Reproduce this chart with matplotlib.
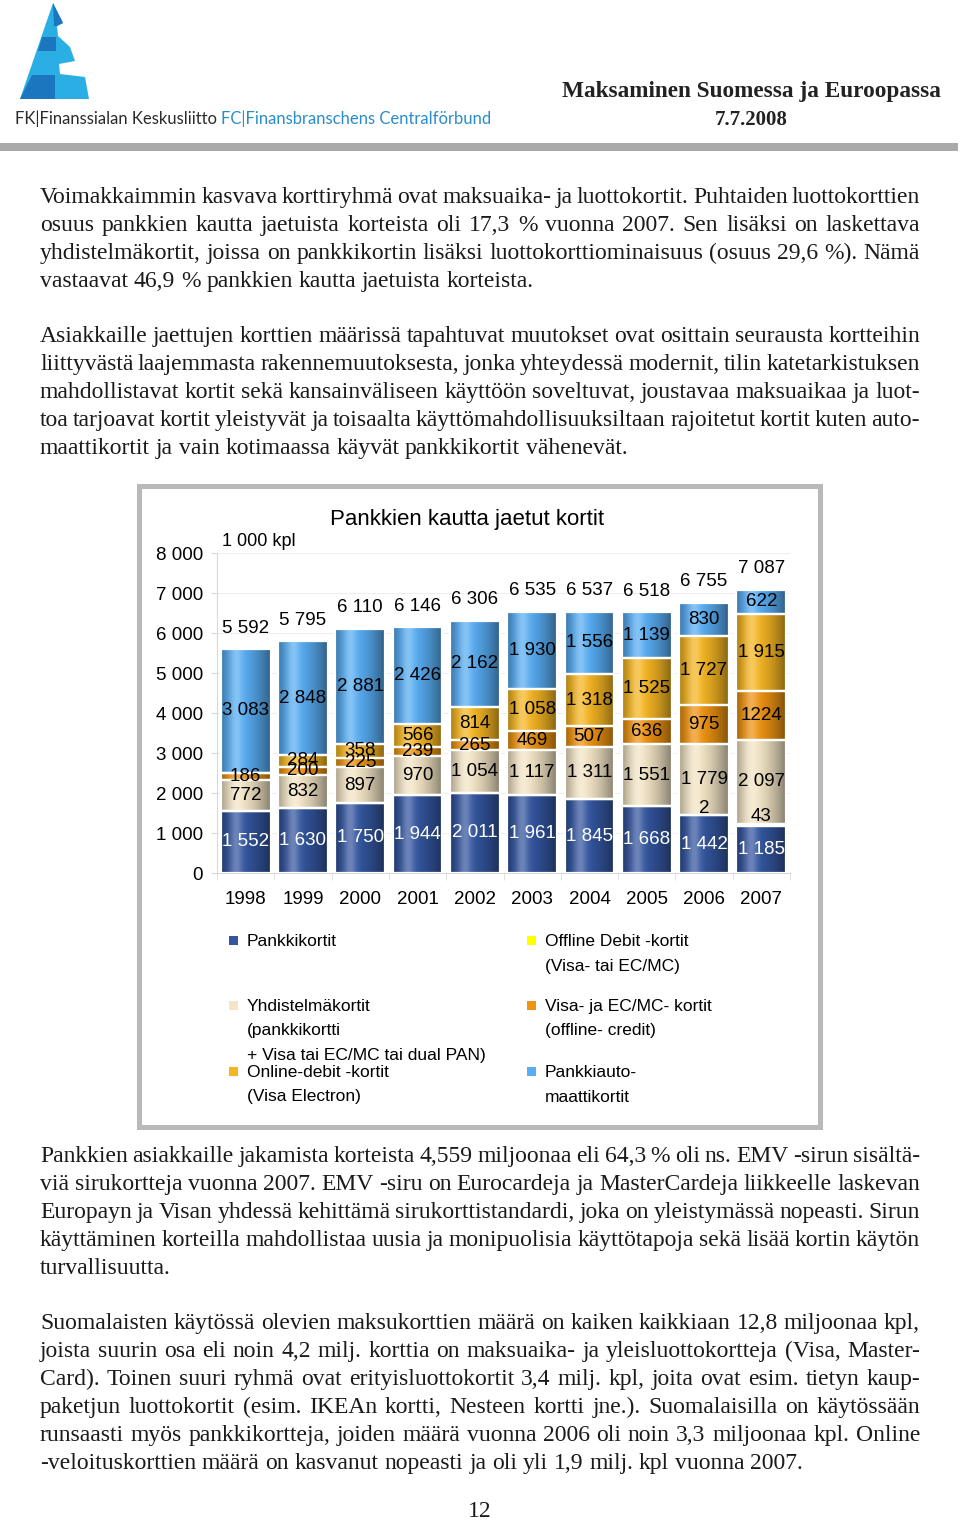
import matplotlib
matplotlib.use('Agg')
import matplotlib.pyplot as plt
import numpy as np
from matplotlib.patches import Rectangle, Polygon

# chart data (1 000 kpl)
years = ['1998', '1999', '2000', '2001', '2002', '2003', '2004', '2005', '2006', '2007']
pankkikortit = [1552, 1630, 1750, 1944, 2011, 1961, 1845, 1668, 1442, 1185]
offline_debit = [0, 0, 0, 0, 0, 0, 0, 0, 2, 43]
yhdistelma = [772, 832, 897, 970, 1054, 1117, 1311, 1551, 1779, 2097]
visa_ecmc = [186, 200, 225, 239, 265, 469, 507, 636, 975, 1224]
online_debit = [0, 284, 358, 566, 814, 1058, 1318, 1525, 1727, 1915]
automaatti = [3083, 2848, 2881, 2426, 2162, 1930, 1556, 1139, 830, 622]
totals = [5592, 5795, 6110, 6146, 6306, 6535, 6537, 6518, 6755, 7087]

series_names = ['Pankkikortit', 'Offline Debit -kortit\n(Visa- tai EC/MC)',
                'Yhdistelmäkortit\n(pankkikortti\n+ Visa tai EC/MC tai dual PAN)',
                'Visa- ja EC/MC- kortit\n(offline- credit)',
                'Online-debit -kortit\n(Visa Electron)', 'Pankkiauto-\nmaattikortit']
colors = ['#34569f', '#ffff00', '#f3e5c6', '#ee9312', '#f5b623', '#58adf3']

para1 = ["Voimakkaimmin kasvava korttiryhmä ovat maksuaika- ja luottokortit. Puhtaiden luottokorttien",
         "osuus pankkien kautta jaetuista korteista oli 17,3 % vuonna 2007. Sen lisäksi on laskettava",
         "yhdistelmäkortit, joissa on pankkikortin lisäksi luottokorttiominaisuus (osuus 29,6 %). Nämä",
         "vastaavat 46,9 % pankkien kautta jaetuista korteista."]
para2 = ["Asiakkaille jaettujen korttien määrissä tapahtuvat muutokset ovat osittain seurausta kortteihin",
         "liittyvästä laajemmasta rakennemuutoksesta, jonka yhteydessä modernit, tilin katetarkistuksen",
         "mahdollistavat kortit sekä kansainväliseen käyttöön soveltuvat, joustavaa maksuaikaa ja luot-",
         "toa tarjoavat kortit yleistyvät ja toisaalta käyttömahdollisuuksiltaan rajoitetut kortit kuten auto-",
         "maattikortit ja vain kotimaassa käyvät pankkikortit vähenevät."]
para3 = ["Pankkien asiakkaille jakamista korteista 4,559 miljoonaa eli 64,3 % oli ns. EMV -sirun sisältä-",
         "viä sirukortteja vuonna 2007.  EMV -siru on Eurocardeja ja MasterCardeja liikkeelle laskevan",
         "Europayn ja Visan yhdessä kehittämä sirukorttistandardi, joka on yleistymässä nopeasti. Sirun",
         "käyttäminen korteilla mahdollistaa uusia ja monipuolisia käyttötapoja sekä lisää kortin käytön",
         "turvallisuutta."]
para4 = ["Suomalaisten käytössä olevien maksukorttien määrä on kaiken kaikkiaan 12,8 miljoonaa kpl,",
         "joista suurin osa eli noin 4,2 milj. korttia on maksuaika- ja yleisluottokortteja (Visa, Master-",
         "Card). Toinen suuri ryhmä ovat erityisluottokortit 3,4 milj. kpl, joita ovat esim. tietyn kaup-",
         "paketjun luottokortit (esim. IKEAn kortti, Nesteen kortti jne.). Suomalaisilla on käytössään",
         "runsaasti myös pankkikortteja, joiden määrä vuonna 2006 oli noin 3,3 miljoonaa kpl. Online",
         "-veloituskorttien määrä on kasvanut nopeasti ja oli yli 1,9 milj. kpl vuonna 2007."]

W, H = 960, 1522
fig = plt.figure(figsize=(W / 100, H / 100), dpi=100)
renderer = fig.canvas.get_renderer()

# page layer in pixel coordinates
bg = fig.add_axes([0, 0, 1, 1])
bg.set_xlim(0, W)
bg.set_ylim(H, 0)
bg.axis('off')

serif = 'Liberation Serif'
sans = 'Liberation Sans'


def width_of(t):
    return t.get_window_extent(renderer).width


def measure(s, size, **kw):
    t = bg.text(0, 0, s, fontsize=size, **kw)
    w = width_of(t)
    t.remove()
    return w


def fit_text(x, y, s, target_w, ha='left', **kw):
    size = 12 * target_w / measure(s, 12, **kw)
    return bg.text(x, y, s, fontsize=size, ha=ha, va='baseline', **kw)


# logo
bg.add_patch(Polygon([(53, 3), (63, 23), (57, 26), (58, 36), (70, 47), (75, 61), (59, 64),
                      (60, 74), (85, 77), (89, 99), (20, 99)], closed=True, color='#2aaee4', lw=0))
for pts in [[(53, 3), (63, 23), (57, 26), (54, 26)],
            [(41.5, 37), (56, 37), (56, 51), (37.5, 51)],
            [(31.5, 75), (55, 75), (55, 99), (20, 99)]]:
    bg.add_patch(Polygon(pts, closed=True, color='#1c76bf', lw=0))

fk1 = 'FK|Finanssialan Keskusliitto '
fk2 = 'FC|Finansbranschens Centralförbund'
fsz = 12 * 475 / measure(fk1 + fk2, 12, family='Lato')
w1 = measure(fk1, fsz, family='Lato')
bg.text(15, 124, fk1, fontsize=fsz, family='Lato', color='#2b2b2b', va='baseline')
bg.text(15 + w1, 124, fk2, fontsize=fsz, family='Lato', color='#2a8dcb', va='baseline')

fit_text(751, 97, 'Maksaminen Suomessa ja Euroopassa', 377, ha='center',
         family=serif, fontweight='bold', color='#222222')
bg.text(751, 125, '7.7.2008', fontsize=15, family=serif, fontweight='bold',
        ha='center', va='baseline', color='#222222')
bg.add_patch(Rectangle((0, 143), 958, 8, color='#a9a9a9', lw=0))

# body text size: as large as possible while every justified line still fits
paras = [para1, para2, para3, para4]
space_w12 = measure('x x', 12, family=serif) - measure('xx', 12, family=serif)
widest = 0
for p in paras:
    for line in p[:-1]:
        words = line.split()
        nat = sum(measure(w, 12, family=serif) for w in words) + 0.6 * space_w12 * (len(words) - 1)
        widest = max(widest, nat)
body_size = min(17.0, 12 * 880 / widest)
space_w = space_w12 * body_size / 12


def paragraph(lines, y0, step=28, x0=40, x1=920):
    for i, line in enumerate(lines):
        words = line.split()
        texts = [bg.text(0, y0 + i * step, w, fontsize=body_size, family=serif,
                         va='baseline', color='#1a1a1a') for w in words]
        ws = [width_of(t) for t in texts]
        if i == len(lines) - 1 or len(words) < 2:
            gap = space_w
        else:
            gap = (x1 - x0 - sum(ws)) / (len(words) - 1)
        x = x0
        for t, w in zip(texts, ws):
            t.set_x(x)
            x += w + gap


paragraph(para1, 203)
paragraph(para2, 342)
paragraph(para3, 1162)
paragraph(para4, 1329)
bg.text(480, 1517, '12', fontsize=body_size, family=serif, ha='center', va='baseline', color='#1a1a1a')

# chart frame
bg.add_patch(Rectangle((138.5, 485.5), 681, 641, facecolor='white', edgecolor='#b9b9b9', lw=3.6))
bg.text(467, 519, 'Pankkien kautta jaetut kortit', fontsize=16, family=sans, ha='center', va='center')
bg.text(222, 541, '1 000 kpl', fontsize=13, family=sans, ha='left', va='center')

# legend
legend_pos = [(233, 940), (531, 940), (233, 1005), (531, 1005), (233, 1071), (531, 1071)]
for name, col, (lx, ly) in zip(series_names, colors, legend_pos):
    bg.add_patch(Rectangle((lx - 4.5, ly - 4.5), 9, 9, color=col, lw=0))
    for k, ln in enumerate(name.split('\n')):
        bg.text(lx + 14, ly + 6 + k * 24.5, ln, fontsize=12.5, family=sans, va='baseline')

# bar chart
ax = fig.add_axes([217 / W, (H - 873) / H, (790 - 217) / W, 320 / H])
ax.set_facecolor('none')
x = np.arange(len(years))
series = [pankkikortit, offline_debit, yhdistelma, visa_ecmc, online_debit, automaatti]
bottom = np.zeros(len(years))

# cylinder-like shading: dark edges, light streak left of centre
u = np.linspace(0, 1, 64)
dark = np.zeros((1, 64, 4))
dark[..., 3] = np.where(u > 0.35, 0.45 * ((u - 0.35) / 0.65) ** 1.6,
                        0.3 * ((0.35 - u) / 0.35) ** 1.6)
light = np.ones((1, 64, 4))
light[..., 3] = 0.28 * np.exp(-((u - 0.3) / 0.13) ** 2)

bw = 0.87
for si, (vals, col) in enumerate(zip(series, colors)):
    vals = np.array(vals, dtype=float)
    bars = ax.bar(x, vals, bw, bottom=bottom, color=col, lw=0, zorder=2)
    for p in bars:
        if p.get_height() <= 0:
            continue
        ext = (p.get_x(), p.get_x() + p.get_width(), p.get_y(), p.get_y() + p.get_height())
        for img in (dark, light):
            im = ax.imshow(img, extent=ext, aspect='auto', interpolation='bilinear', zorder=2.5)
            im.set_clip_path(p)
    ax.bar(x, vals, bw, bottom=bottom, fill=False, edgecolor='white', lw=1.6, zorder=3)
    for xi, v, b in zip(x, vals, bottom):
        if v <= 0:
            continue
        if si == 3:
            lab = str(int(v))
        else:
            lab = f'{int(v):,}'.replace(',', ' ')
        yy = b + v / 2
        if si == 1:
            yy = b + v + 175
        ax.text(xi, yy, lab, ha='center', va='center', fontsize=13.5, family=sans,
                color='white' if si == 0 else 'black', zorder=4)
    bottom = bottom + vals

for xi, tot, top in zip(x, totals, bottom):
    ax.annotate(f'{tot:,}'.replace(',', ' '), (xi, top), xytext=(0, 15),
                textcoords='offset points', ha='center', va='center',
                fontsize=13.5, family=sans)

ax.set_xlim(-0.5, 9.5)
ax.set_ylim(0, 8000)
ax.set_yticks(np.arange(0, 8001, 1000))
ax.set_yticklabels([f'{v:,}'.replace(',', ' ') for v in range(0, 8001, 1000)],
                   fontsize=13.5, family=sans)
ax.set_xticks(x)
ax.set_xticklabels(years, fontsize=13.5, family=sans)
ax.set_xticks(np.arange(-0.5, 10, 1), minor=True)
ax.tick_params(axis='x', which='major', length=0, pad=13)
ax.tick_params(axis='x', which='minor', length=5, color='#d9d9d9')
ax.tick_params(axis='y', length=4, color='#d9d9d9', pad=6)
ax.yaxis.grid(True, color='#eeeeee', lw=0.8)
ax.set_axisbelow(True)
for s in ['top', 'right']:
    ax.spines[s].set_visible(False)
for s in ['left', 'bottom']:
    ax.spines[s].set_color('#d9d9d9')

fig.savefig('out.png', dpi=100)
